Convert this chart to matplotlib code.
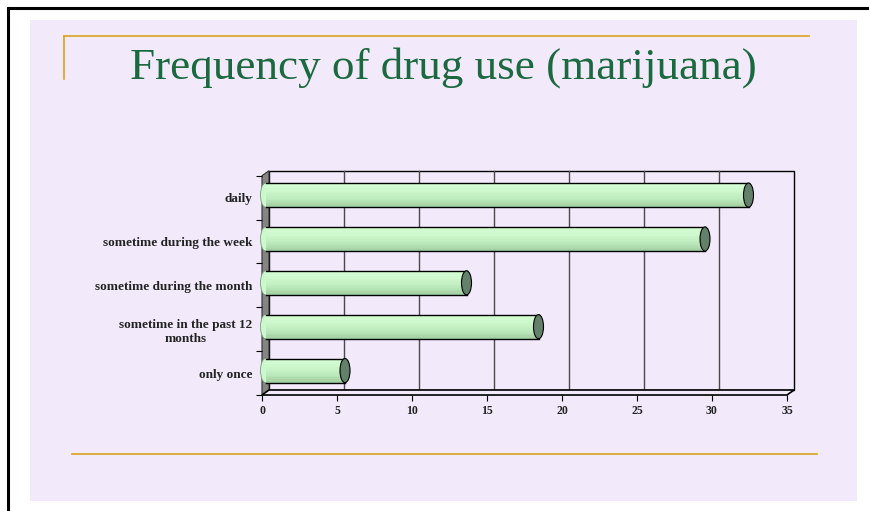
import matplotlib.pyplot as plt
import matplotlib.transforms as mtransforms
from matplotlib.colors import LinearSegmentedColormap
from matplotlib.patches import Rectangle, Ellipse, Polygon
import numpy as np

categorias = ['daily', 'sometime during the week', 'sometime during the month',
              'sometime in the past 12\nmonths', 'only once']
valores = [32.2, 29.3, 13.4, 18.2, 5.3]
xticks = [0, 5, 10, 15, 20, 25, 30, 35]

lavanda = '#f2e9fb'
oro = '#d8a31a'

fig = plt.figure(figsize=(8.69, 5.11), dpi=100, facecolor='white')

# fondo de la diapositiva en pixeles
bg = fig.add_axes([0, 0, 1, 1], zorder=-5)
bg.set_xlim(0, 869)
bg.set_ylim(511, 0)
bg.axis('off')
bg.add_patch(Rectangle((30, 20), 827, 481, facecolor=lavanda, edgecolor='none'))
bg.plot([8, 869], [8, 8], color='black', lw=2.2)
bg.plot([8, 8], [8, 511], color='black', lw=2.2)
bg.plot([64, 809], [36, 36], color=oro, lw=1.2)
bg.plot([64, 64], [36, 79], color=oro, lw=1.2)
bg.plot([72, 817], [454, 454], color=oro, lw=1.2)
bg.text(443, 79, 'Frequency of drug use (marijuana)', ha='center', va='baseline',
        fontsize=32.5, color='#1b6a3f', family='Liberation Serif')

# zona del grafico (plano frontal)
ax = fig.add_axes([262/869, 1-395/511, 525/869, 219.3/511])
ax.set_xlim(0, 35)
ax.set_ylim(4.5, -0.5)
ax.patch.set_visible(False)
for s in ax.spines.values():
    s.set_visible(False)

n = len(categorias)
fondo = mtransforms.offset_copy(ax.transData, fig, x=7, y=5, units='dots')
medio = mtransforms.offset_copy(ax.transData, fig, x=3.5, y=2.5, units='dots')

# pared del fondo con rejilla
ax.add_patch(Rectangle((0, -0.5), 35, n, transform=fondo, facecolor=lavanda,
                       edgecolor='black', lw=1, zorder=0, clip_on=False))
for xv in xticks[1:-1]:
    ax.plot([xv, xv], [-0.5, 4.5], transform=fondo, color='#4a4a4a', lw=1,
            zorder=0.5, clip_on=False)

# pared izquierda y piso
p0 = ax.transData.transform([(0, -0.5), (0, 4.5)])
p1 = fondo.transform([(0, 4.5), (0, -0.5)])
inv = ax.transData.inverted()
ax.add_patch(Polygon(inv.transform(np.vstack([p0, p1])), closed=True,
                     facecolor='#858585', edgecolor='#303030', lw=0.8,
                     zorder=1, clip_on=False))
f0 = ax.transData.transform([(0, 4.5), (35, 4.5)])
f1 = fondo.transform([(35, 4.5), (0, 4.5)])
ax.add_patch(Polygon(inv.transform(np.vstack([f0, f1])), closed=True,
                     facecolor=lavanda, edgecolor='black', lw=1.2,
                     zorder=1, clip_on=False))

# cilindros con degradado
cmap = LinearSegmentedColormap.from_list('cil', ['#d4ffd4', '#cbf7cb', '#bdebbd', '#a4d0a4'])
h = 0.55
nb = 14
cap_w = 10 / 15
for i, v in enumerate(valores):
    ax.add_patch(Ellipse((0, i), cap_w, h, transform=medio, facecolor='#cdf7cd',
                         edgecolor='#7a9a7a', lw=0.6, zorder=2, clip_on=False))
    for k in range(nb):
        ax.barh(i - h/2 + k*h/nb, v, height=h/nb, align='edge',
                color=cmap(k/(nb-1)), transform=medio, zorder=3, clip_on=False)
    ax.plot([0, v], [i - h/2, i - h/2], transform=medio, color='black', lw=1, zorder=4, clip_on=False)
    ax.plot([0, v], [i + h/2, i + h/2], transform=medio, color='black', lw=1, zorder=4, clip_on=False)
    ax.add_patch(Ellipse((v, i), cap_w, h, transform=medio, facecolor='#62806a',
                         edgecolor='black', lw=0.8, zorder=5, clip_on=False))

# ejes y etiquetas
ax.set_yticks(range(n))
ax.set_yticklabels(categorias, fontsize=9.5, fontweight='bold', family='Liberation Serif',
                   color='#222222', ha='center', ma='center')
ax.set_yticks(np.arange(-0.5, n), minor=True)
ax.tick_params(axis='y', which='major', length=0, pad=7)
ax.tick_params(axis='y', which='minor', length=4, width=0.8, direction='out')
fig.canvas.draw()
for lab in ax.get_yticklabels():
    lab.set_horizontalalignment('right')
ax.set_xticks(xticks)
ax.set_xticklabels([str(t) for t in xticks], fontsize=8.5, fontweight='bold',
                   family='Liberation Serif', color='#222222')
ax.tick_params(axis='x', length=4, width=0.8, direction='out', pad=3)

fig.savefig('out.png', dpi=100, facecolor='white')
